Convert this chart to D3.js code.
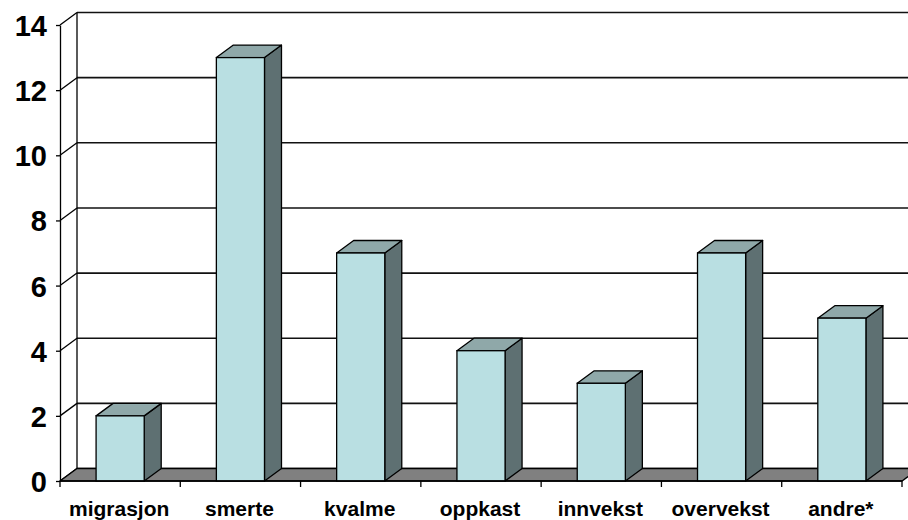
<!DOCTYPE html>
<html>
<head>
<meta charset="utf-8">
<script src="https://cdn.jsdelivr.net/npm/d3@7"></script>
<style>
  body { margin: 0; background: #fff; }
  text { font-family: "Liberation Sans", Arial, sans-serif; font-weight: bold; }
</style>
</head>
<body>
<div id="chart"></div>
<script>
var categories = ["migrasjon", "smerte", "kvalme", "oppkast", "innvekst", "overvekst", "andre*"];
var values = [2, 13, 7, 4, 3, 7, 5];
var yTicks = [0, 2, 4, 6, 8, 10, 12, 14];

var width = 908, height = 520;
var left = 60, right = 902, bottom = 481;
var dx = 17, dy = 12.5;   // 3d depth offset

var svg = d3.select("#chart").append("svg")
    .attr("width", width)
    .attr("height", height);

var x = d3.scaleBand()
    .domain(categories)
    .range([left, right]);

var y = d3.scaleLinear()
    .domain([0, 14])
    .range([bottom, bottom - 14 * 32.57]);

var bw = x.bandwidth();
var barW = bw / 2.5;

// back wall gridlines + border
svg.selectAll("line.grid")
    .data(yTicks)
    .enter()
    .append("line")
    .attr("x1", left + dx)
    .attr("x2", width + 20)
    .attr("y1", function (d) { return y(d) - dy; })
    .attr("y2", function (d) { return y(d) - dy; })
    .style("stroke", "#111")
    .style("stroke-width", 1.6);

svg.append("line")
    .attr("x1", left + dx).attr("x2", left + dx)
    .attr("y1", y(14) - dy).attr("y2", y(0) - dy)
    .style("stroke", "#000")
    .style("stroke-width", 1.3);

// side wall diagonals
svg.selectAll("line.side")
    .data(yTicks)
    .enter()
    .append("line")
    .attr("x1", left)
    .attr("x2", left + dx)
    .attr("y1", function (d) { return y(d); })
    .attr("y2", function (d) { return y(d) - dy; })
    .style("stroke", "#000")
    .style("stroke-width", 1.3);

// floor
svg.append("polygon")
    .attr("points", [[left, y(0)], [left + dx, y(0) - dy], [right + dx, y(0) - dy], [right, y(0)]].join(" "))
    .style("fill", "#808080")
    .style("stroke", "#000")
    .style("stroke-width", 1.3);

// bars
var bars = svg.selectAll("g.bar")
    .data(values)
    .enter()
    .append("g")
    .attr("class", "bar");

function bx0(d, i) { return x(categories[i]) + (bw - barW) / 2; }

bars.append("polygon")
    .attr("points", function (d, i) {
        var x1 = bx0(d, i) + barW;
        return [[x1, y(d)], [x1 + dx, y(d) - dy], [x1 + dx, y(0) - dy], [x1, y(0)]].join(" ");
    })
    .style("fill", "#5e7072")
    .style("stroke", "#000")
    .style("stroke-width", 1.3)
    .style("stroke-linejoin", "round");

bars.append("polygon")
    .attr("points", function (d, i) {
        var x0 = bx0(d, i), x1 = x0 + barW;
        return [[x0, y(d)], [x0 + dx, y(d) - dy], [x1 + dx, y(d) - dy], [x1, y(d)]].join(" ");
    })
    .style("fill", "#8fa8a9")
    .style("stroke", "#000")
    .style("stroke-width", 1.3)
    .style("stroke-linejoin", "round");

bars.append("rect")
    .attr("x", bx0)
    .attr("y", function (d) { return y(d); })
    .attr("width", barW)
    .attr("height", function (d) { return y(0) - y(d); })
    .style("fill", "#b9dfe2")
    .style("stroke", "#000")
    .style("stroke-width", 1.3);

// y axis
var yAxis = svg.append("g")
    .attr("transform", "translate(" + left + ",0)")
    .call(d3.axisLeft(y).tickValues(yTicks).tickSize(4).tickSizeOuter(0).tickPadding(9));
yAxis.selectAll("path, line").style("stroke", "#000").style("stroke-width", 1.3);
yAxis.selectAll("text")
    .style("font-size", "29px")
    .style("font-family", "Liberation Sans, Arial, sans-serif")
    .style("font-weight", "bold")
    .attr("dy", "0.36em")
    .style("fill", "#000");

// x axis line + ticks at band edges
svg.append("line")
    .attr("x1", left).attr("x2", right)
    .attr("y1", y(0)).attr("y2", y(0))
    .style("stroke", "#000")
    .style("stroke-width", 1.3);

svg.selectAll("line.xtick")
    .data(d3.range(categories.length + 1))
    .enter()
    .append("line")
    .attr("x1", function (i) { return left + i * x.step(); })
    .attr("x2", function (i) { return left + i * x.step(); })
    .attr("y1", y(0))
    .attr("y2", y(0) + 6)
    .style("stroke", "#000")
    .style("stroke-width", 1.3);

svg.selectAll("text.cat")
    .data(categories)
    .enter()
    .append("text")
    .attr("x", function (d) { return x(d) + bw / 2 - 1; })
    .attr("y", 516)
    .attr("text-anchor", "middle")
    .style("font-size", "21px")
    .text(function (d) { return d; });
</script>
</body>
</html>
